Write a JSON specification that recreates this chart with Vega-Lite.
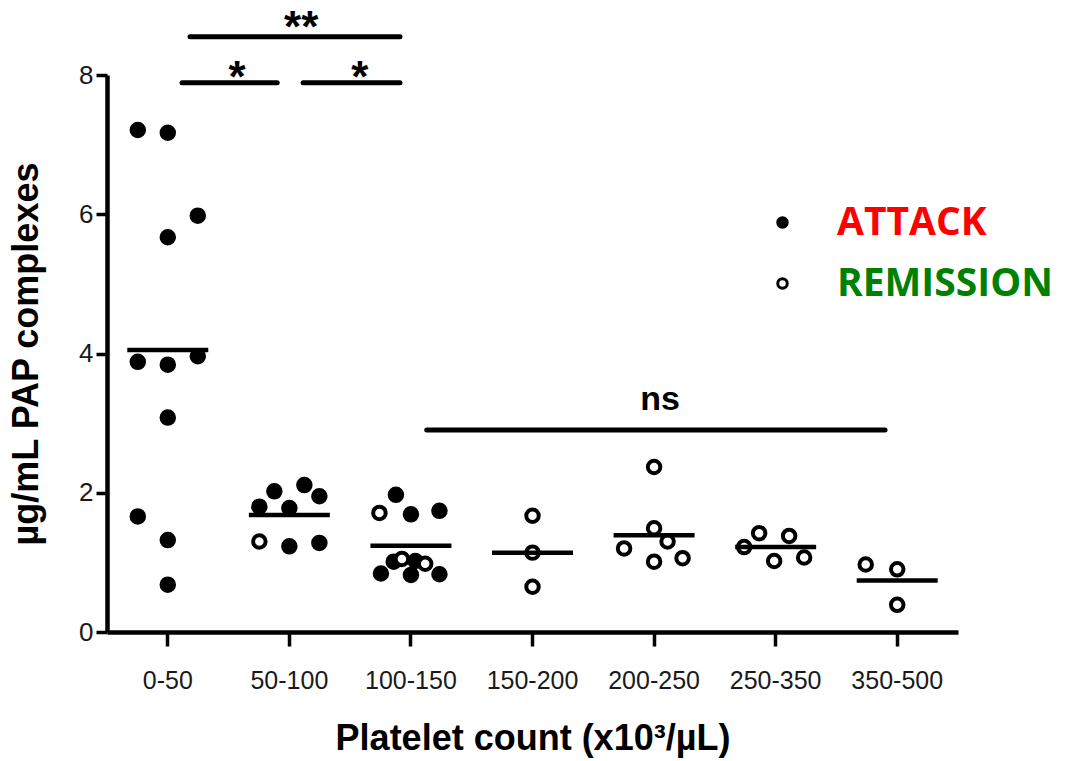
{
  "$schema": "https://vega.github.io/schema/vega-lite/v6.json",
  "width": 851,
  "height": 557,
  "autosize": {"type": "none"},
  "padding": {"left": 107, "top": 75, "right": 107, "bottom": 129},
  "background": "white",
  "config": {
    "view": {"stroke": null},
    "font": "Liberation Sans"
  },
  "datasets": {
    "points": [
      {"group": "0-50", "value": 7.21, "dx": -2, "status": "ATTACK"},
      {"group": "0-50", "value": 7.17, "dx": 0, "status": "ATTACK"},
      {"group": "0-50", "value": 5.98, "dx": 2, "status": "ATTACK"},
      {"group": "0-50", "value": 5.67, "dx": 0, "status": "ATTACK"},
      {"group": "0-50", "value": 3.88, "dx": -2, "status": "ATTACK"},
      {"group": "0-50", "value": 3.84, "dx": 0, "status": "ATTACK"},
      {"group": "0-50", "value": 3.96, "dx": 2, "status": "ATTACK"},
      {"group": "0-50", "value": 3.08, "dx": 0, "status": "ATTACK"},
      {"group": "0-50", "value": 1.66, "dx": -2, "status": "ATTACK"},
      {"group": "0-50", "value": 1.32, "dx": 0, "status": "ATTACK"},
      {"group": "0-50", "value": 0.68, "dx": 0, "status": "ATTACK"},
      {"group": "50-100", "value": 1.80, "dx": -2, "status": "ATTACK"},
      {"group": "50-100", "value": 2.02, "dx": -1, "status": "ATTACK"},
      {"group": "50-100", "value": 1.78, "dx": 0, "status": "ATTACK"},
      {"group": "50-100", "value": 2.11, "dx": 1, "status": "ATTACK"},
      {"group": "50-100", "value": 1.95, "dx": 2, "status": "ATTACK"},
      {"group": "50-100", "value": 1.23, "dx": 0, "status": "ATTACK"},
      {"group": "50-100", "value": 1.28, "dx": 2, "status": "ATTACK"},
      {"group": "100-150", "value": 1.97, "dx": -1, "status": "ATTACK"},
      {"group": "100-150", "value": 1.69, "dx": 0, "status": "ATTACK"},
      {"group": "100-150", "value": 1.74, "dx": 1.9, "status": "ATTACK"},
      {"group": "100-150", "value": 1.01, "dx": -1.15, "status": "ATTACK"},
      {"group": "100-150", "value": 1.02, "dx": 0.3, "status": "ATTACK"},
      {"group": "100-150", "value": 0.84, "dx": -2, "status": "ATTACK"},
      {"group": "100-150", "value": 0.82, "dx": 0, "status": "ATTACK"},
      {"group": "100-150", "value": 0.83, "dx": 1.9, "status": "ATTACK"},
      {"group": "50-100", "value": 1.30, "dx": -2, "status": "REMISSION"},
      {"group": "100-150", "value": 1.71, "dx": -2.1, "status": "REMISSION"},
      {"group": "100-150", "value": 1.05, "dx": -0.6, "status": "REMISSION"},
      {"group": "100-150", "value": 0.98, "dx": 0.95, "status": "REMISSION"},
      {"group": "150-200", "value": 1.67, "dx": 0, "status": "REMISSION"},
      {"group": "150-200", "value": 1.14, "dx": 0, "status": "REMISSION"},
      {"group": "150-200", "value": 0.65, "dx": 0, "status": "REMISSION"},
      {"group": "200-250", "value": 2.37, "dx": 0, "status": "REMISSION"},
      {"group": "200-250", "value": 1.49, "dx": 0, "status": "REMISSION"},
      {"group": "200-250", "value": 1.20, "dx": -2, "status": "REMISSION"},
      {"group": "200-250", "value": 1.30, "dx": 0.9, "status": "REMISSION"},
      {"group": "200-250", "value": 1.01, "dx": 0, "status": "REMISSION"},
      {"group": "200-250", "value": 1.06, "dx": 1.9, "status": "REMISSION"},
      {"group": "250-350", "value": 1.22, "dx": -2.1, "status": "REMISSION"},
      {"group": "250-350", "value": 1.42, "dx": -1.1, "status": "REMISSION"},
      {"group": "250-350", "value": 1.38, "dx": 0.9, "status": "REMISSION"},
      {"group": "250-350", "value": 1.02, "dx": -0.1, "status": "REMISSION"},
      {"group": "250-350", "value": 1.07, "dx": 1.9, "status": "REMISSION"},
      {"group": "350-500", "value": 0.97, "dx": -2.1, "status": "REMISSION"},
      {"group": "350-500", "value": 0.90, "dx": 0, "status": "REMISSION"},
      {"group": "350-500", "value": 0.39, "dx": 0, "status": "REMISSION"}
    ],
    "medians": [
      {"group": "0-50", "median": 4.05},
      {"group": "50-100", "median": 1.68},
      {"group": "100-150", "median": 1.24},
      {"group": "150-200", "median": 1.14},
      {"group": "200-250", "median": 1.39},
      {"group": "250-350", "median": 1.22},
      {"group": "350-500", "median": 0.74}
    ],
    "bars": [
      {"pos1": 0.683, "pos2": 2.41, "level": 8.55},
      {"pos1": 0.617, "pos2": 1.40, "level": 7.89},
      {"pos1": 1.613, "pos2": 2.41, "level": 7.89},
      {"pos1": 2.63, "pos2": 6.40, "level": 2.90}
    ],
    "stars": [
      {"pos": 1.597, "level": 8.47, "label": "**"},
      {"pos": 1.07, "level": 7.75, "label": "*"},
      {"pos": 2.08, "level": 7.75, "label": "*"}
    ],
    "ns": [
      {"pos": 4.55, "level": 3.19, "label": "ns"}
    ]
  },
  "layer": [
    {
      "layer": [
        {
          "data": {"name": "points"},
          "mark": {"type": "point", "shape": "circle", "filled": true, "size": 156, "stroke": "black", "strokeWidth": 4, "opacity": 1},
          "encoding": {
            "x": {
              "field": "group", "type": "nominal", "sort": null,
              "scale": {"type": "band", "domain": ["0-50", "50-100", "100-150", "150-200", "200-250", "250-350", "350-500"], "paddingInner": 0, "paddingOuter": 0},
              "axis": {
                "title": "Platelet count (x10³/µL)",
                "labelAngle": 0,
                "bandPosition": 0.5,
                "domainColor": "black", "domainWidth": 4.5,
                "tickColor": "black", "tickWidth": 3.5, "tickSize": 14,
                "labelFont": "Liberation Sans", "labelFontSize": 25, "labelColor": "#1a1a1a", "labelPadding": 22,
                "titleFont": "Liberation Sans", "titleFontSize": 36, "titleFontWeight": "bold", "titleColor": "black", "titlePadding": 28
              }
            },
            "xOffset": {"field": "dx", "type": "quantitative", "scale": {"domain": [-2, 2], "range": [30.79, 90.79], "zero": false, "nice": false}},
            "y": {
              "field": "value", "type": "quantitative",
              "scale": {"domain": [0, 8], "nice": false, "zero": true},
              "axis": {
                "title": "µg/mL PAP complexes",
                "values": [0, 2, 4, 6, 8],
                "format": "d",
                "grid": false,
                "domainColor": "black", "domainWidth": 4.5,
                "tickColor": "black", "tickWidth": 3.5, "tickSize": 11,
                "labelFont": "Liberation Sans", "labelFontSize": 26, "labelColor": "#1a1a1a", "labelPadding": 3,
                "titleFont": "Liberation Sans", "titleFontSize": 36, "titleFontWeight": "bold", "titleColor": "black", "titlePadding": 33
              }
            },
            "fill": {
              "field": "status", "type": "nominal",
              "scale": {"domain": ["ATTACK", "REMISSION"], "range": ["black", "white"]},
              "legend": {
                "title": null,
                "orient": "none",
                "legendX": 656,
                "legendY": 128,
                "padding": 0,
                "symbolType": "circle",
                "symbolSize": 90,
                "symbolStrokeWidth": 3,
                "symbolStrokeColor": "black",
                "labelFont": "Open Sans",
                "labelFontSize": 39,
                "labelFontWeight": "bold",
                "labelColor": {"expr": "datum.value === 'ATTACK' ? '#ff0000' : '#008000'"},
                "labelOffset": 35,
                "labelLimit": 400,
                "rowPadding": 21
              }
            }
          }
        },
        {
          "data": {"name": "medians"},
          "mark": {"type": "tick", "orient": "horizontal", "size": 81, "thickness": 4.5, "color": "black", "opacity": 1},
          "encoding": {
            "x": {"field": "group", "type": "nominal", "sort": null},
            "y": {"field": "median", "type": "quantitative"}
          }
        }
      ]
    },
    {
      "layer": [
        {
          "data": {"name": "bars"},
          "mark": {"type": "rule", "strokeWidth": 5, "strokeCap": "round", "color": "black"},
          "encoding": {
            "x": {"field": "pos1", "type": "quantitative", "scale": {"domain": [0, 7], "nice": false, "zero": true}, "axis": null},
            "x2": {"field": "pos2"},
            "y": {"field": "level", "type": "quantitative"}
          }
        },
        {
          "data": {"name": "stars"},
          "mark": {"type": "text", "font": "Liberation Sans", "fontSize": 44, "fontWeight": "bold", "color": "black", "baseline": "alphabetic", "align": "center"},
          "encoding": {
            "x": {"field": "pos", "type": "quantitative", "axis": null},
            "y": {"field": "level", "type": "quantitative"},
            "text": {"field": "label"}
          }
        },
        {
          "data": {"name": "ns"},
          "mark": {"type": "text", "font": "Liberation Sans", "fontSize": 34, "fontWeight": "bold", "color": "black", "baseline": "alphabetic", "align": "center"},
          "encoding": {
            "x": {"field": "pos", "type": "quantitative", "axis": null},
            "y": {"field": "level", "type": "quantitative"},
            "text": {"field": "label"}
          }
        }
      ]
    }
  ],
  "resolve": {"scale": {"x": "independent"}, "axis": {"x": "independent"}}
}
